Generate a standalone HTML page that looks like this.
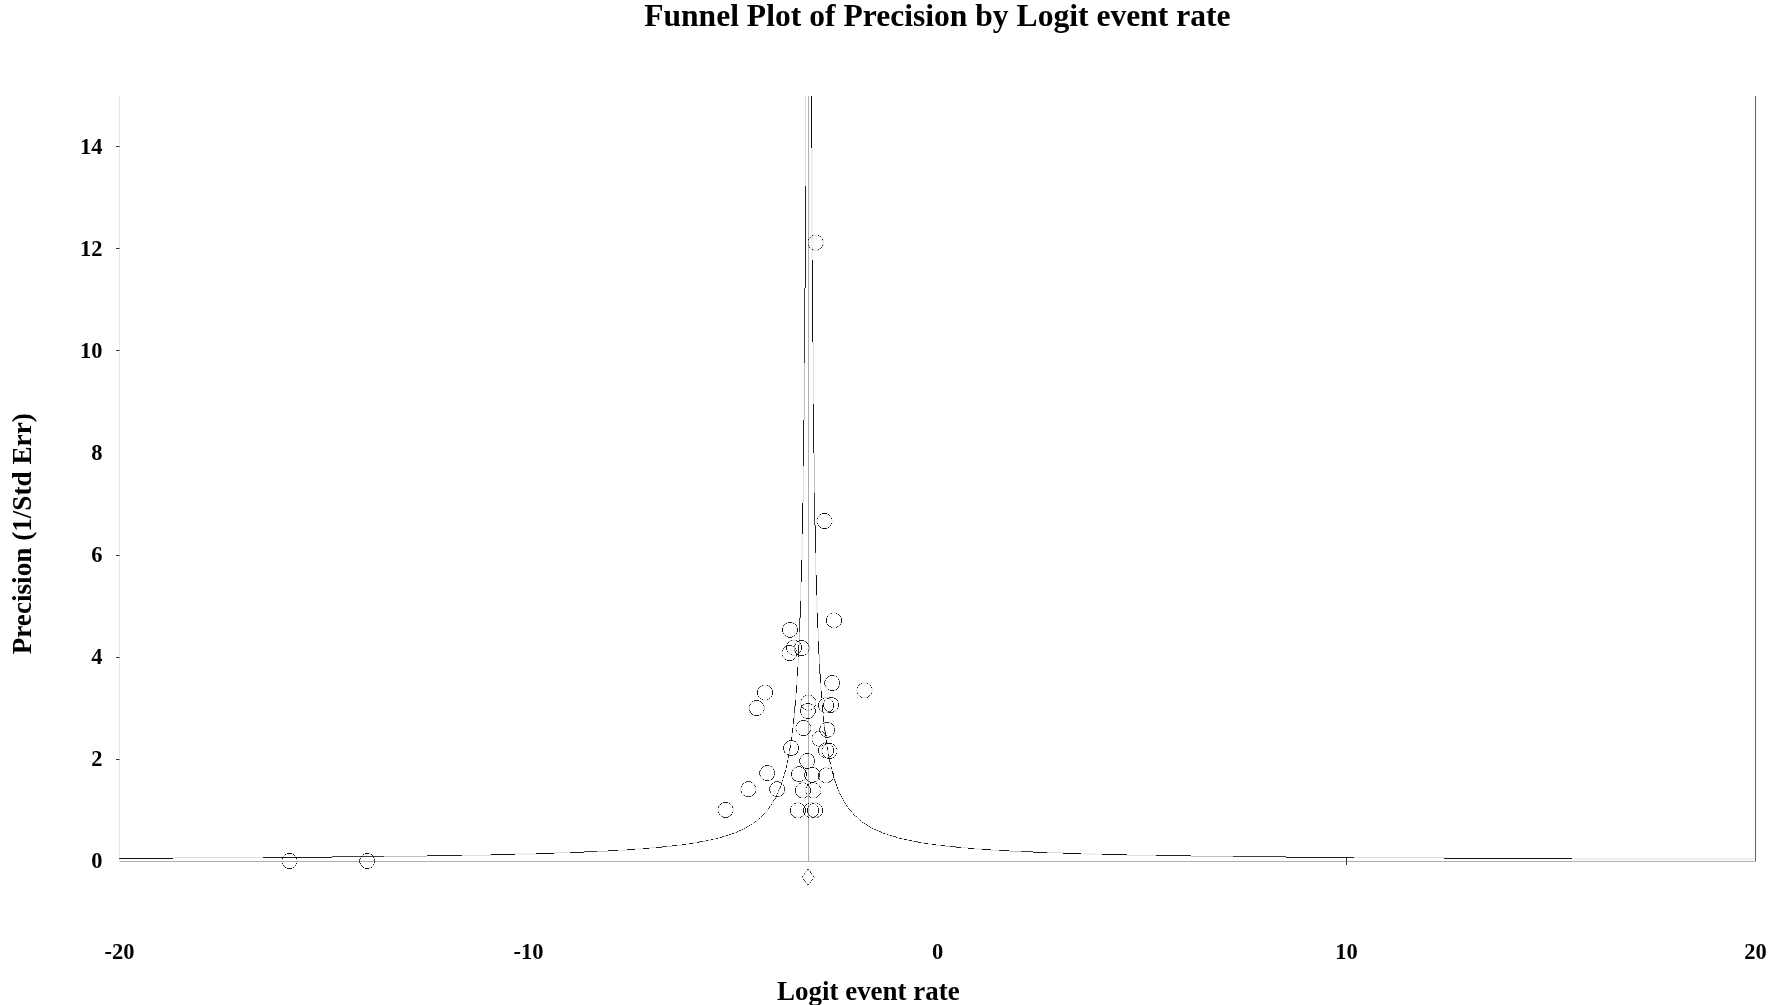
<!DOCTYPE html>
<html><head><meta charset="utf-8"><style>
html,body{margin:0;padding:0;background:#fff;width:1772px;height:1005px;overflow:hidden}
body{position:relative}
</style></head><body>
<svg width="1772" height="1005" viewBox="0 0 1772 1005" style="position:absolute;left:0;top:0;will-change:transform"><line x1="119.5" y1="96" x2="119.5" y2="862" stroke="#e9e9e9" stroke-width="1"/><line x1="1755.5" y1="96" x2="1755.5" y2="862" stroke="#616161" stroke-width="1"/><line x1="120" y1="861.5" x2="1756" y2="861.5" stroke="#b0b0b0" stroke-width="1"/><line x1="116" y1="759.5" x2="119.5" y2="759.5" stroke="#333" stroke-width="1"/><line x1="116" y1="657.5" x2="119.5" y2="657.5" stroke="#333" stroke-width="1"/><line x1="116" y1="555.5" x2="119.5" y2="555.5" stroke="#333" stroke-width="1"/><line x1="116" y1="350.5" x2="119.5" y2="350.5" stroke="#333" stroke-width="1"/><line x1="116" y1="248.5" x2="119.5" y2="248.5" stroke="#333" stroke-width="1"/><line x1="116" y1="146.5" x2="119.5" y2="146.5" stroke="#333" stroke-width="1"/><line x1="1346.5" y1="858" x2="1346.5" y2="865" stroke="#333" stroke-width="1"/><line x1="808.5" y1="96" x2="808.5" y2="861" stroke="#b0b0b0" stroke-width="1"/><g shape-rendering="crispEdges"><path d="M811 148h2v1h-2zM811 149h2v1h-2zM811 150h2v1h-2zM811 151h2v1h-2zM811 152h2v1h-2zM811 153h2v1h-2zM811 154h2v1h-2zM811 155h2v1h-2zM811 156h2v1h-2zM811 157h2v1h-2zM811 158h2v1h-2zM811 159h2v1h-2zM811 160h2v1h-2zM811 161h2v1h-2zM811 162h2v1h-2zM811 163h2v1h-2zM811 164h2v1h-2zM811 165h2v1h-2zM811 166h2v1h-2zM811 167h2v1h-2zM811 168h2v1h-2zM811 169h2v1h-2zM811 170h2v1h-2zM811 171h2v1h-2zM811 172h2v1h-2zM811 173h2v1h-2zM811 174h2v1h-2zM811 175h2v1h-2zM811 176h2v1h-2zM811 177h2v1h-2zM811 178h2v1h-2zM811 179h2v1h-2zM811 180h2v1h-2zM811 181h2v1h-2zM811 182h2v1h-2zM811 183h2v1h-2zM811 184h2v1h-2zM811 185h2v1h-2zM811 186h2v1h-2zM811 187h2v1h-2zM811 188h2v1h-2zM811 189h2v1h-2zM811 190h2v1h-2zM811 191h2v1h-2zM811 192h2v1h-2zM811 193h2v1h-2zM811 194h2v1h-2zM811 195h2v1h-2zM811 196h2v1h-2zM811 197h2v1h-2zM811 198h2v1h-2zM811 199h2v1h-2zM811 200h2v1h-2zM811 201h2v1h-2zM811 202h2v1h-2zM811 203h2v1h-2zM811 204h2v1h-2zM811 205h2v1h-2zM811 206h2v1h-2zM811 207h2v1h-2zM811 208h2v1h-2zM811 209h2v1h-2zM811 210h2v1h-2zM811 211h2v1h-2zM811 212h2v1h-2zM811 213h2v1h-2zM811 214h2v1h-2zM811 215h2v1h-2zM811 216h2v1h-2zM811 217h2v1h-2zM811 218h2v1h-2zM811 219h2v1h-2zM811 220h2v1h-2zM811 221h2v1h-2zM811 222h2v1h-2zM811 223h2v1h-2zM811 224h2v1h-2zM811 225h2v1h-2zM811 226h2v1h-2zM811 227h2v1h-2zM811 228h2v1h-2zM811 229h2v1h-2zM811 230h2v1h-2zM811 231h2v1h-2zM811 232h2v1h-2zM811 233h2v1h-2zM811 234h2v1h-2zM811 235h1v1h-1zM810 236h1v1h-1zM812 236h1v1h-1zM809 237h1v1h-1zM811 237h2v1h-2zM811 238h2v1h-2zM821 238h2v1h-2zM811 239h2v1h-2zM811 240h2v1h-2zM811 241h2v1h-2zM811 242h2v1h-2zM811 243h2v1h-2zM811 244h2v1h-2zM811 245h2v1h-2zM811 246h2v1h-2zM821 246h2v1h-2zM811 247h2v1h-2zM820 247h1v1h-1zM812 248h1v1h-1zM819 248h1v1h-1zM819 249h1v1h-1zM811 250h2v1h-2zM811 251h2v1h-2zM811 252h2v1h-2zM811 253h2v1h-2zM811 254h2v1h-2zM811 255h2v1h-2zM811 256h2v1h-2zM811 257h2v1h-2zM811 258h2v1h-2zM811 259h2v1h-2zM804 287h1v1h-1zM804 420h1v1h-1zM821 513h1v1h-1zM827 513h1v1h-1zM821 514h1v1h-1zM827 514h1v1h-1zM816 519h2v1h-2zM831 519h2v1h-2zM816 520h2v1h-2zM831 520h2v1h-2zM816 521h2v1h-2zM831 521h2v1h-2zM816 522h2v1h-2zM831 522h2v1h-2zM817 524h1v1h-1zM831 524h1v1h-1zM814 525h1v1h-1zM801 534h2v1h-2zM801 535h2v1h-2zM801 536h2v1h-2zM801 537h2v1h-2zM801 538h2v1h-2zM801 539h2v1h-2zM801 540h2v1h-2zM801 541h2v1h-2zM801 542h2v1h-2zM801 543h2v1h-2zM801 544h2v1h-2zM801 545h2v1h-2zM801 546h2v1h-2zM801 547h2v1h-2zM801 548h2v1h-2zM801 549h2v1h-2zM801 550h2v1h-2zM801 551h2v1h-2zM801 552h2v1h-2zM801 553h2v1h-2zM801 554h2v1h-2zM801 555h2v1h-2zM801 556h2v1h-2zM801 557h2v1h-2zM801 558h2v1h-2zM801 559h2v1h-2zM815 575h1v1h-1zM816 596h2v1h-2zM816 597h2v1h-2zM816 598h2v1h-2zM816 599h2v1h-2zM816 600h2v1h-2zM816 601h2v1h-2zM816 602h2v1h-2zM816 603h2v1h-2zM816 604h2v1h-2zM816 605h2v1h-2zM816 606h2v1h-2zM816 607h2v1h-2zM816 608h2v1h-2zM816 609h2v1h-2zM816 610h2v1h-2zM816 611h2v1h-2zM816 612h2v1h-2zM837 613h1v1h-1zM837 614h1v1h-1zM799 617h1v1h-1zM826 617h2v1h-2zM793 622h1v1h-1zM840 622h1v1h-1zM826 623h2v1h-2zM784 625h1v1h-1zM795 625h1v1h-1zM796 632h2v1h-2zM796 634h1v1h-1zM784 635h1v1h-1zM785 636h1v1h-1zM786 644h2v1h-2zM799 645h2v1h-2zM786 650h2v1h-2zM809 650h1v1h-1zM781 651h2v1h-2zM796 651h2v1h-2zM781 652h2v1h-2zM796 652h2v1h-2zM781 653h2v1h-2zM806 653h2v1h-2zM781 654h2v1h-2zM806 654h1v1h-1zM783 656h1v1h-1zM795 656h1v1h-1zM796 677h2v1h-2zM796 678h2v1h-2zM796 679h2v1h-2zM796 680h2v1h-2zM796 681h2v1h-2zM796 682h2v1h-2zM796 683h2v1h-2zM860 683h1v1h-1zM862 683h1v1h-1zM866 683h1v1h-1zM868 683h1v1h-1zM796 684h2v1h-2zM860 684h1v1h-1zM868 684h1v1h-1zM824 685h1v1h-1zM859 685h1v1h-1zM869 685h1v1h-1zM826 688h2v1h-2zM856 688h2v1h-2zM871 688h2v1h-2zM771 689h2v1h-2zM827 689h1v1h-1zM856 689h2v1h-2zM871 689h2v1h-2zM758 690h1v1h-1zM856 690h2v1h-2zM871 690h2v1h-2zM856 691h2v1h-2zM871 691h2v1h-2zM771 695h2v1h-2zM813 696h1v1h-1zM814 697h1v1h-1zM834 697h1v1h-1zM761 698h1v1h-1zM801 698h2v1h-2zM821 698h1v1h-1zM826 698h1v1h-1zM761 699h1v1h-1zM826 699h1v1h-1zM821 700h2v1h-2zM821 701h2v1h-2zM838 701h1v1h-1zM821 702h2v1h-2zM810 703h1v1h-1zM821 703h2v1h-2zM810 704h1v1h-1zM812 704h1v1h-1zM821 704h2v1h-2zM803 705h1v1h-1zM802 706h1v1h-1zM800 707h1v1h-1zM803 707h1v1h-1zM819 707h1v1h-1zM804 708h1v1h-1zM812 708h1v1h-1zM832 708h1v1h-1zM804 709h1v1h-1zM812 709h1v1h-1zM836 709h2v1h-2zM764 710h1v1h-1zM825 710h1v1h-1zM761 713h2v1h-2zM761 714h1v1h-1zM814 715h1v1h-1zM803 716h1v1h-1zM813 716h1v1h-1zM805 721h1v1h-1zM822 723h1v1h-1zM796 724h2v1h-2zM821 724h2v1h-2zM819 727h1v1h-1zM795 730h1v1h-1zM814 732h1v1h-1zM824 732h1v1h-1zM791 733h2v1h-2zM791 734h2v1h-2zM806 734h1v1h-1zM791 735h2v1h-2zM813 735h1v1h-1zM791 736h2v1h-2zM811 737h2v1h-2zM811 738h2v1h-2zM826 738h2v1h-2zM811 739h2v1h-2zM826 739h2v1h-2zM811 740h2v1h-2zM827 740h1v1h-1zM785 742h1v1h-1zM828 742h1v1h-1zM796 743h2v1h-2zM822 743h1v1h-1zM832 743h1v1h-1zM822 744h1v1h-1zM827 744h1v1h-1zM832 744h1v1h-1zM826 745h2v1h-2zM826 746h2v1h-2zM821 749h2v1h-2zM836 749h2v1h-2zM821 750h2v1h-2zM836 750h2v1h-2zM798 751h1v1h-1zM821 751h2v1h-2zM836 751h2v1h-2zM819 752h1v1h-1zM821 752h2v1h-2zM836 752h2v1h-2zM786 753h1v1h-1zM804 753h1v1h-1zM832 753h1v1h-1zM786 754h1v1h-1zM804 754h1v1h-1zM822 754h1v1h-1zM836 754h1v1h-1zM794 755h1v1h-1zM800 756h1v1h-1zM814 757h1v1h-1zM788 760h1v1h-1zM786 763h2v1h-2zM786 764h2v1h-2zM800 765h1v1h-1zM785 767h1v1h-1zM794 767h1v1h-1zM828 767h1v1h-1zM822 768h1v1h-1zM806 769h2v1h-2zM822 769h1v1h-1zM831 769h2v1h-2zM832 770h1v1h-1zM791 771h2v1h-2zM804 772h1v1h-1zM759 775h1v1h-1zM805 776h1v1h-1zM834 777h1v1h-1zM761 778h2v1h-2zM832 778h1v1h-1zM762 779h1v1h-1zM795 781h1v1h-1zM782 782h1v1h-1zM800 782h1v1h-1zM782 783h1v1h-1zM806 783h1v1h-1zM809 783h1v1h-1zM817 783h1v1h-1zM782 784h1v1h-1zM806 784h1v1h-1zM809 784h1v1h-1zM817 784h1v1h-1zM741 785h2v1h-2zM806 786h2v1h-2zM836 786h2v1h-2zM779 787h1v1h-1zM779 790h1v1h-1zM740 791h1v1h-1zM754 792h1v1h-1zM809 792h1v1h-1zM741 793h2v1h-2zM771 793h1v1h-1zM796 793h1v1h-1zM742 794h1v1h-1zM771 794h2v1h-2zM776 794h2v1h-2zM806 794h2v1h-2zM753 795h1v1h-1zM819 795h1v1h-1zM818 796h1v1h-1zM841 797h2v1h-2zM842 799h1v1h-1zM774 800h1v1h-1zM795 802h1v1h-1zM722 803h1v1h-1zM771 803h2v1h-2zM801 803h1v1h-1zM807 803h1v1h-1zM811 803h1v1h-1zM801 804h1v1h-1zM807 804h1v1h-1zM811 804h1v1h-1zM733 807h1v1h-1zM821 807h2v1h-2zM849 810h1v1h-1zM765 811h1v1h-1zM850 811h1v1h-1zM808 812h1v1h-1zM731 813h2v1h-2zM791 813h1v1h-1zM817 813h1v1h-1zM821 813h2v1h-2zM763 815h1v1h-1zM723 816h1v1h-1zM859 820h1v1h-1zM752 823h1v1h-1zM752 824h1v1h-1zM743 828h1v1h-1zM741 829h1v1h-1zM743 829h1v1h-1zM875 830h1v1h-1zM883 832h1v1h-1zM731 833h1v1h-1zM885 833h2v1h-2zM731 834h1v1h-1zM885 834h2v1h-2zM729 835h1v1h-1zM899 837h1v1h-1zM714 838h1v1h-1zM902 838h2v1h-2zM714 839h1v1h-1zM902 839h2v1h-2zM924 842h1v1h-1zM686 843h3v1h-3zM928 843h4v1h-4zM681 844h1v1h-1zM686 844h3v1h-3zM928 844h4v1h-4zM649 847h1v1h-1zM635 848h8v1h-8zM975 848h7v1h-7zM635 849h8v1h-8zM975 849h7v1h-7zM990 850h1v1h-1zM1033 851h1v1h-1zM554 852h1v1h-1zM1063 852h1v1h-1zM286 853h1v1h-1zM292 853h1v1h-1zM364 853h1v1h-1zM515 853h21v1h-21zM1081 853h21v1h-21zM286 854h1v1h-1zM292 854h1v1h-1zM364 854h1v1h-1zM515 854h21v1h-21zM1081 854h21v1h-21zM1190 856h1v1h-1zM374 857h1v1h-1zM1444 857h1v1h-1zM1572 858h183v1h-183zM281 859h2v1h-2zM296 859h2v1h-2zM1572 859h183v1h-183zM281 860h2v1h-2zM296 860h2v1h-2zM281 861h2v1h-2zM296 861h2v1h-2zM281 862h2v1h-2zM296 862h2v1h-2zM282 864h1v1h-1zM296 864h1v1h-1zM360 865h1v1h-1zM369 867h1v1h-1zM805 871h1v1h-1zM811 874h2v1h-2zM809 882h1v1h-1zM806 883h2v1h-2zM808 885h1v1h-1z" fill="#000" fill-opacity="0.062"/><path d="M805 96h1v1h-1zM805 97h1v1h-1zM805 98h1v1h-1zM805 99h1v1h-1zM805 100h1v1h-1zM805 101h1v1h-1zM805 102h1v1h-1zM805 103h1v1h-1zM805 104h1v1h-1zM805 105h1v1h-1zM805 106h1v1h-1zM805 107h1v1h-1zM805 108h1v1h-1zM805 109h1v1h-1zM805 110h1v1h-1zM805 111h1v1h-1zM805 112h1v1h-1zM805 113h1v1h-1zM805 114h1v1h-1zM805 115h1v1h-1zM805 116h1v1h-1zM805 117h1v1h-1zM805 118h1v1h-1zM805 119h1v1h-1zM805 120h1v1h-1zM805 121h1v1h-1zM805 122h1v1h-1zM805 123h1v1h-1zM805 124h1v1h-1zM805 125h1v1h-1zM805 126h1v1h-1zM805 127h1v1h-1zM805 128h1v1h-1zM805 129h1v1h-1zM805 130h1v1h-1zM805 131h1v1h-1zM805 132h1v1h-1zM805 133h1v1h-1zM805 134h1v1h-1zM805 135h1v1h-1zM805 136h1v1h-1zM805 137h1v1h-1zM805 138h1v1h-1zM805 139h1v1h-1zM805 140h1v1h-1zM805 141h1v1h-1zM805 142h1v1h-1zM805 143h1v1h-1zM805 144h1v1h-1zM805 145h1v1h-1zM805 146h1v1h-1zM805 147h1v1h-1zM805 148h1v1h-1zM805 149h1v1h-1zM805 150h1v1h-1zM805 151h1v1h-1zM805 152h1v1h-1zM805 153h1v1h-1zM805 154h1v1h-1zM805 155h1v1h-1zM805 156h1v1h-1zM805 157h1v1h-1zM805 158h1v1h-1zM805 159h1v1h-1zM805 160h1v1h-1zM805 161h1v1h-1zM805 162h1v1h-1zM805 163h1v1h-1zM805 164h1v1h-1zM805 165h1v1h-1zM805 166h1v1h-1zM805 167h1v1h-1zM805 168h1v1h-1zM805 169h1v1h-1zM805 170h1v1h-1zM805 171h1v1h-1zM805 172h1v1h-1zM805 173h1v1h-1zM805 174h1v1h-1zM805 175h1v1h-1zM805 176h1v1h-1zM805 177h1v1h-1zM805 178h1v1h-1zM805 179h1v1h-1zM805 180h1v1h-1zM805 181h1v1h-1zM805 182h1v1h-1zM805 183h1v1h-1zM805 184h1v1h-1zM805 185h1v1h-1zM814 235h4v1h-4zM820 237h2v1h-2zM822 240h2v1h-2zM808 241h1v1h-1zM823 241h1v1h-1zM808 242h1v1h-1zM823 242h1v1h-1zM808 243h1v1h-1zM823 243h1v1h-1zM808 244h1v1h-1zM823 244h1v1h-1zM810 247h1v1h-1zM810 248h2v1h-2zM811 249h1v1h-1zM813 249h1v1h-1zM813 250h5v1h-5zM813 342h1v1h-1zM813 343h1v1h-1zM813 344h1v1h-1zM813 345h1v1h-1zM813 346h1v1h-1zM813 347h1v1h-1zM813 348h1v1h-1zM813 349h1v1h-1zM813 350h1v1h-1zM813 351h1v1h-1zM813 352h1v1h-1zM813 353h1v1h-1zM813 354h1v1h-1zM813 355h1v1h-1zM813 356h1v1h-1zM813 357h1v1h-1zM813 358h1v1h-1zM813 359h1v1h-1zM813 360h1v1h-1zM813 361h1v1h-1zM813 362h1v1h-1zM813 363h1v1h-1zM813 364h1v1h-1zM813 365h1v1h-1zM813 366h1v1h-1zM813 367h1v1h-1zM813 368h1v1h-1zM813 369h1v1h-1zM813 370h1v1h-1zM813 371h1v1h-1zM813 372h1v1h-1zM813 373h1v1h-1zM813 374h1v1h-1zM813 375h1v1h-1zM813 376h1v1h-1zM813 377h1v1h-1zM813 378h1v1h-1zM813 379h1v1h-1zM813 380h1v1h-1zM813 381h1v1h-1zM813 382h1v1h-1zM813 383h1v1h-1zM813 384h1v1h-1zM813 385h1v1h-1zM813 386h1v1h-1zM813 387h1v1h-1zM813 388h1v1h-1zM813 389h1v1h-1zM813 390h1v1h-1zM813 391h1v1h-1zM813 392h1v1h-1zM813 393h1v1h-1zM813 394h1v1h-1zM813 395h1v1h-1zM813 396h1v1h-1zM813 397h1v1h-1zM813 398h1v1h-1zM813 399h1v1h-1zM813 400h1v1h-1zM813 401h1v1h-1zM813 402h1v1h-1zM813 403h1v1h-1zM803 466h1v1h-1zM803 467h1v1h-1zM803 468h1v1h-1zM803 469h1v1h-1zM803 470h1v1h-1zM803 471h1v1h-1zM803 472h1v1h-1zM803 473h1v1h-1zM803 474h1v1h-1zM803 475h1v1h-1zM803 476h1v1h-1zM803 477h1v1h-1zM803 478h1v1h-1zM803 479h1v1h-1zM803 480h1v1h-1zM803 481h1v1h-1zM803 482h1v1h-1zM803 483h1v1h-1zM803 484h1v1h-1zM803 485h1v1h-1zM803 486h1v1h-1zM803 487h1v1h-1zM803 488h1v1h-1zM803 489h1v1h-1zM803 490h1v1h-1zM803 491h1v1h-1zM803 492h1v1h-1zM803 493h1v1h-1zM803 494h1v1h-1zM803 495h1v1h-1zM803 496h1v1h-1zM803 497h1v1h-1zM803 498h1v1h-1zM803 499h1v1h-1zM803 500h1v1h-1zM803 501h1v1h-1zM803 502h1v1h-1zM817 517h2v1h-2zM830 517h2v1h-2zM818 524h1v1h-1zM830 524h1v1h-1zM821 527h1v1h-1zM827 527h1v1h-1zM815 553h1v1h-1zM815 554h1v1h-1zM815 555h1v1h-1zM815 556h1v1h-1zM815 557h1v1h-1zM815 558h1v1h-1zM815 559h1v1h-1zM815 560h1v1h-1zM815 561h1v1h-1zM815 562h1v1h-1zM815 563h1v1h-1zM815 564h1v1h-1zM815 565h1v1h-1zM815 566h1v1h-1zM815 567h1v1h-1zM815 568h1v1h-1zM815 569h1v1h-1zM815 570h1v1h-1zM815 571h1v1h-1zM815 572h1v1h-1zM815 573h1v1h-1zM815 574h1v1h-1zM800 582h1v1h-1zM800 583h1v1h-1zM800 584h1v1h-1zM800 585h1v1h-1zM800 586h1v1h-1zM800 587h1v1h-1zM800 588h1v1h-1zM800 589h1v1h-1zM800 590h1v1h-1zM800 591h1v1h-1zM800 592h1v1h-1zM800 593h1v1h-1zM800 594h1v1h-1zM800 595h1v1h-1zM800 596h1v1h-1zM800 597h1v1h-1zM800 598h1v1h-1zM800 599h1v1h-1zM800 600h1v1h-1zM832 612h4v1h-4zM840 617h1v1h-1zM787 622h1v1h-1zM782 627h2v1h-2zM830 627h1v1h-1zM832 627h4v1h-4zM818 628h1v1h-1zM818 629h1v1h-1zM818 630h1v1h-1zM818 631h1v1h-1zM783 632h1v1h-1zM818 632h1v1h-1zM818 633h1v1h-1zM795 634h1v1h-1zM818 634h1v1h-1zM795 635h1v1h-1zM818 635h1v1h-1zM794 636h1v1h-1zM818 636h1v1h-1zM818 637h1v1h-1zM818 638h1v1h-1zM818 639h1v1h-1zM790 640h1v1h-1zM792 640h4v1h-4zM818 640h1v1h-1zM808 644h1v1h-1zM783 649h1v1h-1zM795 649h1v1h-1zM800 650h1v1h-1zM794 651h1v1h-1zM807 652h2v1h-2zM797 653h1v1h-1zM792 655h4v1h-4zM804 655h1v1h-1zM798 657h1v1h-1zM798 658h1v1h-1zM798 659h1v1h-1zM786 660h1v1h-1zM792 660h1v1h-1zM798 660h1v1h-1zM798 661h1v1h-1zM798 662h1v1h-1zM798 663h1v1h-1zM798 664h1v1h-1zM798 665h1v1h-1zM798 666h1v1h-1zM834 676h1v1h-1zM825 679h1v1h-1zM862 682h5v1h-5zM820 683h1v1h-1zM820 684h1v1h-1zM763 685h4v1h-4zM768 685h1v1h-1zM820 685h1v1h-1zM820 686h1v1h-1zM839 686h1v1h-1zM858 686h1v1h-1zM870 686h1v1h-1zM820 687h1v1h-1zM825 687h2v1h-2zM820 688h1v1h-1zM820 689h1v1h-1zM835 689h1v1h-1zM820 690h1v1h-1zM829 690h1v1h-1zM835 690h1v1h-1zM795 693h1v1h-1zM795 694h1v1h-1zM858 694h1v1h-1zM870 694h1v1h-1zM758 695h1v1h-1zM795 695h1v1h-1zM806 695h4v1h-4zM858 695h1v1h-1zM870 695h1v1h-1zM795 696h1v1h-1zM859 696h1v1h-1zM869 696h1v1h-1zM795 697h1v1h-1zM802 697h2v1h-2zM824 697h5v1h-5zM863 697h3v1h-3zM795 698h1v1h-1zM822 698h1v1h-1zM795 699h1v1h-1zM822 699h1v1h-1zM825 699h1v1h-1zM763 700h4v1h-4zM800 700h2v1h-2zM825 700h1v1h-1zM754 701h1v1h-1zM800 701h1v1h-1zM815 701h1v1h-1zM800 702h1v1h-1zM815 702h1v1h-1zM823 702h1v1h-1zM833 702h1v1h-1zM800 703h1v1h-1zM815 703h1v1h-1zM763 704h1v1h-1zM800 704h1v1h-1zM815 704h1v1h-1zM812 705h2v1h-2zM813 707h1v1h-1zM838 707h1v1h-1zM813 708h1v1h-1zM833 708h1v1h-1zM810 709h1v1h-1zM806 710h5v1h-5zM835 710h2v1h-2zM749 711h1v1h-1zM823 711h1v1h-1zM762 712h2v1h-2zM824 712h4v1h-4zM833 712h1v1h-1zM800 713h1v1h-1zM823 713h1v1h-1zM753 714h1v1h-1zM823 714h1v1h-1zM753 715h1v1h-1zM759 715h1v1h-1zM823 715h1v1h-1zM805 717h1v1h-1zM810 717h1v1h-1zM805 718h1v1h-1zM830 722h1v1h-1zM830 723h1v1h-1zM793 724h1v1h-1zM793 725h1v1h-1zM820 725h2v1h-2zM793 726h1v1h-1zM795 726h1v1h-1zM810 726h1v1h-1zM834 726h1v1h-1zM793 727h1v1h-1zM795 727h1v1h-1zM810 727h1v1h-1zM795 728h1v1h-1zM810 728h1v1h-1zM795 729h1v1h-1zM810 729h1v1h-1zM824 731h1v1h-1zM820 733h1v1h-1zM800 735h1v1h-1zM806 735h1v1h-1zM825 736h1v1h-1zM825 738h1v1h-1zM825 739h1v1h-1zM793 740h1v1h-1zM790 741h1v1h-1zM790 742h1v1h-1zM795 742h2v1h-2zM813 742h1v1h-1zM824 742h1v1h-1zM827 742h1v1h-1zM790 743h1v1h-1zM790 744h1v1h-1zM826 744h1v1h-1zM798 745h1v1h-1zM815 745h1v1h-1zM823 745h1v1h-1zM822 747h2v1h-2zM833 747h1v1h-1zM835 747h2v1h-2zM783 750h1v1h-1zM827 750h2v1h-2zM828 751h1v1h-1zM785 752h1v1h-1zM828 752h1v1h-1zM785 753h1v1h-1zM833 753h1v1h-1zM823 754h1v1h-1zM835 754h1v1h-1zM824 757h1v1h-1zM826 757h2v1h-2zM832 757h1v1h-1zM788 758h1v1h-1zM788 759h1v1h-1zM830 765h1v1h-1zM769 766h1v1h-1zM830 766h1v1h-1zM804 767h1v1h-1zM809 767h1v1h-1zM815 767h1v1h-1zM824 767h4v1h-4zM785 768h1v1h-1zM815 768h1v1h-1zM760 769h1v1h-1zM785 769h1v1h-1zM806 770h1v1h-1zM833 772h1v1h-1zM774 776h1v1h-1zM760 777h2v1h-2zM783 778h1v1h-1zM833 778h1v1h-1zM770 779h1v1h-1zM783 779h1v1h-1zM764 780h1v1h-1zM770 780h1v1h-1zM779 781h1v1h-1zM744 782h1v1h-1zM750 782h1v1h-1zM752 782h1v1h-1zM773 782h1v1h-1zM801 782h4v1h-4zM815 782h1v1h-1zM824 782h4v1h-4zM815 783h1v1h-1zM835 783h1v1h-1zM783 784h1v1h-1zM818 784h1v1h-1zM770 785h1v1h-1zM780 785h1v1h-1zM818 785h1v1h-1zM740 787h1v1h-1zM755 787h1v1h-1zM795 787h1v1h-1zM740 788h1v1h-1zM755 788h1v1h-1zM805 788h1v1h-1zM820 788h1v1h-1zM740 789h1v1h-1zM755 789h1v1h-1zM805 789h1v1h-1zM820 789h1v1h-1zM838 789h1v1h-1zM740 790h1v1h-1zM755 790h1v1h-1zM805 790h1v1h-1zM820 790h1v1h-1zM769 791h1v1h-1zM805 791h1v1h-1zM820 791h1v1h-1zM839 791h1v1h-1zM778 792h1v1h-1zM783 792h1v1h-1zM805 792h2v1h-2zM770 793h1v1h-1zM795 793h1v1h-1zM743 794h1v1h-1zM743 795h1v1h-1zM772 795h1v1h-1zM780 795h1v1h-1zM807 795h1v1h-1zM840 795h1v1h-1zM799 796h1v1h-1zM801 797h4v1h-4zM811 797h4v1h-4zM843 799h1v1h-1zM844 801h1v1h-1zM722 802h1v1h-1zM728 802h1v1h-1zM772 802h2v1h-2zM796 802h4v1h-4zM809 802h8v1h-8zM845 804h1v1h-1zM770 805h1v1h-1zM719 806h1v1h-1zM790 807h1v1h-1zM808 807h1v1h-1zM818 807h1v1h-1zM848 807h1v1h-1zM718 808h1v1h-1zM733 808h1v1h-1zM718 809h1v1h-1zM733 809h1v1h-1zM768 809h1v1h-1zM718 810h1v1h-1zM733 810h1v1h-1zM718 811h1v1h-1zM733 811h1v1h-1zM804 812h1v1h-1zM790 813h1v1h-1zM818 813h1v1h-1zM853 813h1v1h-1zM794 816h1v1h-1zM796 817h4v1h-4zM809 817h2v1h-2zM815 817h2v1h-2zM818 817h1v1h-1zM753 822h1v1h-1zM753 823h1v1h-1zM750 825h1v1h-1zM868 825h1v1h-1zM745 827h1v1h-1zM871 827h1v1h-1zM741 830h1v1h-1zM878 830h1v1h-1zM739 831h1v1h-1zM734 832h1v1h-1zM880 832h1v1h-1zM888 834h1v1h-1zM725 835h1v1h-1zM728 835h1v1h-1zM888 835h2v1h-2zM718 837h2v1h-2zM895 837h1v1h-1zM898 837h1v1h-1zM705 840h1v1h-1zM709 840h2v1h-2zM907 840h2v1h-2zM693 842h3v1h-3zM921 842h3v1h-3zM693 843h1v1h-1zM678 845h4v1h-4zM936 845h4v1h-4zM650 847h6v1h-6zM955 847h1v1h-1zM961 847h7v1h-7zM618 850h9v1h-9zM991 850h8v1h-8zM1009 851h1v1h-1zM555 852h15v1h-15zM1048 852h15v1h-15zM490 854h1v1h-1zM462 855h29v1h-29zM1127 855h28v1h-28zM173 857h90v1h-90zM1285 857h1v1h-1zM1354 857h90v1h-90zM283 864h1v1h-1zM295 864h1v1h-1zM286 867h1v1h-1zM292 867h1v1h-1zM364 867h1v1h-1zM808 870h1v1h-1zM809 871h1v1h-1zM812 875h2v1h-2zM813 877h1v1h-1zM803 878h1v1h-1zM813 878h1v1h-1zM804 881h1v1h-1zM810 881h1v1h-1zM805 882h2v1h-2z" fill="#000" fill-opacity="0.125"/><path d="M813 235h1v1h-1zM808 240h1v1h-1zM816 595h1v1h-1zM830 613h1v1h-1zM828 615h1v1h-1zM792 622h1v1h-1zM785 623h1v1h-1zM840 623h1v1h-1zM797 627h1v1h-1zM790 641h1v1h-1zM796 642h1v1h-1zM795 643h1v1h-1zM800 644h1v1h-1zM788 652h1v1h-1zM790 654h1v1h-1zM783 657h1v1h-1zM795 657h1v1h-1zM834 675h1v1h-1zM837 677h1v1h-1zM838 678h1v1h-1zM768 686h1v1h-1zM758 689h1v1h-1zM857 692h1v1h-1zM871 692h1v1h-1zM810 695h1v1h-1zM859 695h1v1h-1zM770 697h1v1h-1zM833 697h1v1h-1zM862 697h1v1h-1zM866 697h1v1h-1zM768 699h1v1h-1zM830 699h1v1h-1zM815 700h1v1h-1zM831 700h1v1h-1zM751 702h1v1h-1zM824 702h1v1h-1zM838 702h1v1h-1zM750 703h1v1h-1zM805 703h1v1h-1zM795 706h1v1h-1zM813 706h1v1h-1zM800 708h1v1h-1zM820 710h1v1h-1zM835 711h1v1h-1zM801 715h1v1h-1zM808 722h1v1h-1zM833 726h1v1h-1zM810 731h1v1h-1zM797 732h1v1h-1zM798 733h1v1h-1zM813 734h1v1h-1zM833 734h1v1h-1zM832 735h1v1h-1zM829 737h1v1h-1zM793 741h1v1h-1zM830 744h1v1h-1zM831 745h1v1h-1zM784 750h1v1h-1zM798 750h1v1h-1zM828 753h1v1h-1zM810 754h1v1h-1zM793 755h1v1h-1zM802 755h1v1h-1zM820 755h1v1h-1zM828 756h1v1h-1zM800 757h1v1h-1zM800 764h1v1h-1zM830 764h1v1h-1zM769 765h1v1h-1zM813 765h1v1h-1zM772 767h1v1h-1zM795 767h1v1h-1zM802 767h1v1h-1zM773 768h1v1h-1zM793 769h1v1h-1zM830 769h1v1h-1zM831 770h1v1h-1zM818 771h1v1h-1zM792 777h1v1h-1zM818 779h1v1h-1zM803 780h1v1h-1zM817 780h1v1h-1zM820 780h1v1h-1zM781 782h1v1h-1zM829 782h1v1h-1zM753 783h1v1h-1zM798 784h1v1h-1zM797 785h1v1h-1zM819 785h1v1h-1zM838 791h1v1h-1zM784 792h1v1h-1zM820 792h1v1h-1zM808 795h1v1h-1zM780 796h1v1h-1zM808 796h1v1h-1zM775 797h1v1h-1zM815 797h1v1h-1zM843 801h1v1h-1zM818 803h1v1h-1zM730 804h1v1h-1zM793 804h1v1h-1zM815 804h1v1h-1zM731 805h1v1h-1zM792 805h1v1h-1zM816 805h1v1h-1zM820 805h1v1h-1zM770 806h1v1h-1zM767 810h1v1h-1zM765 812h1v1h-1zM852 812h1v1h-1zM808 813h1v1h-1zM720 815h1v1h-1zM803 815h1v1h-1zM805 815h1v1h-1zM760 817h1v1h-1zM811 817h1v1h-1zM857 817h1v1h-1zM858 818h1v1h-1zM758 819h1v1h-1zM757 820h1v1h-1zM863 822h1v1h-1zM865 824h1v1h-1zM868 826h1v1h-1zM873 828h1v1h-1zM876 830h1v1h-1zM878 831h1v1h-1zM735 832h1v1h-1zM882 832h1v1h-1zM725 836h1v1h-1zM897 837h1v1h-1zM715 838h1v1h-1zM713 839h1v1h-1zM708 840h1v1h-1zM705 841h1v1h-1zM696 842h1v1h-1zM699 842h1v1h-1zM677 845h1v1h-1zM940 845h1v1h-1zM1009 850h1v1h-1zM584 852h1v1h-1zM1047 852h1v1h-1zM370 854h1v1h-1zM362 855h1v1h-1zM1155 855h1v1h-1zM360 857h1v1h-1zM360 864h1v1h-1zM373 865h1v1h-1zM370 867h1v1h-1zM807 870h1v1h-1zM809 870h1v1h-1zM806 871h1v1h-1zM805 872h1v1h-1zM803 875h1v1h-1zM802 877h1v1h-1zM814 877h1v1h-1z" fill="#000" fill-opacity="0.188"/><path d="M811 236h1v1h-1zM819 236h1v1h-1zM809 238h1v1h-1zM809 246h1v1h-1zM804 363h1v1h-1zM804 364h1v1h-1zM804 365h1v1h-1zM804 366h1v1h-1zM804 367h1v1h-1zM804 368h1v1h-1zM804 369h1v1h-1zM804 370h1v1h-1zM804 371h1v1h-1zM804 372h1v1h-1zM804 373h1v1h-1zM804 374h1v1h-1zM804 375h1v1h-1zM804 376h1v1h-1zM804 377h1v1h-1zM804 378h1v1h-1zM804 379h1v1h-1zM804 380h1v1h-1zM804 381h1v1h-1zM804 382h1v1h-1zM804 383h1v1h-1zM804 384h1v1h-1zM804 385h1v1h-1zM804 386h1v1h-1zM804 387h1v1h-1zM804 388h1v1h-1zM804 389h1v1h-1zM804 390h1v1h-1zM804 391h1v1h-1zM804 392h1v1h-1zM804 393h1v1h-1zM804 394h1v1h-1zM804 395h1v1h-1zM804 396h1v1h-1zM804 397h1v1h-1zM804 398h1v1h-1zM804 399h1v1h-1zM804 400h1v1h-1zM804 401h1v1h-1zM804 402h1v1h-1zM804 403h1v1h-1zM804 404h1v1h-1zM804 405h1v1h-1zM804 406h1v1h-1zM804 407h1v1h-1zM804 408h1v1h-1zM804 409h1v1h-1zM804 410h1v1h-1zM804 411h1v1h-1zM804 412h1v1h-1zM804 413h1v1h-1zM804 414h1v1h-1zM804 415h1v1h-1zM804 416h1v1h-1zM804 417h1v1h-1zM804 418h1v1h-1zM804 419h1v1h-1zM814 453h1v1h-1zM814 454h1v1h-1zM814 455h1v1h-1zM814 456h1v1h-1zM814 457h1v1h-1zM814 458h1v1h-1zM814 459h1v1h-1zM814 460h1v1h-1zM814 461h1v1h-1zM814 462h1v1h-1zM814 463h1v1h-1zM814 464h1v1h-1zM814 465h1v1h-1zM814 466h1v1h-1zM814 467h1v1h-1zM814 468h1v1h-1zM814 469h1v1h-1zM814 470h1v1h-1zM814 471h1v1h-1zM814 472h1v1h-1zM814 473h1v1h-1zM814 474h1v1h-1zM814 475h1v1h-1zM814 476h1v1h-1zM814 477h1v1h-1zM814 478h1v1h-1zM814 479h1v1h-1zM814 480h1v1h-1zM814 481h1v1h-1zM814 482h1v1h-1zM814 483h1v1h-1zM814 484h1v1h-1zM814 485h1v1h-1zM814 486h1v1h-1zM814 487h1v1h-1zM814 488h1v1h-1zM814 489h1v1h-1zM814 490h1v1h-1zM814 491h1v1h-1zM814 492h1v1h-1zM819 515h1v1h-1zM818 516h1v1h-1zM830 516h1v1h-1zM829 526h1v1h-1zM829 614h1v1h-1zM794 623h1v1h-1zM839 625h1v1h-1zM783 626h1v1h-1zM796 626h1v1h-1zM838 626h1v1h-1zM799 632h1v1h-1zM799 633h1v1h-1zM784 634h1v1h-1zM799 634h1v1h-1zM799 635h1v1h-1zM786 636h1v1h-1zM793 636h1v1h-1zM799 636h1v1h-1zM799 637h1v1h-1zM799 638h1v1h-1zM799 639h1v1h-1zM789 641h1v1h-1zM799 641h1v1h-1zM804 641h1v1h-1zM799 643h1v1h-1zM799 644h1v1h-1zM792 646h1v1h-1zM794 646h1v1h-1zM809 646h1v1h-1zM809 647h1v1h-1zM794 648h1v1h-1zM809 648h1v1h-1zM794 649h1v1h-1zM809 649h1v1h-1zM808 651h1v1h-1zM789 653h1v1h-1zM819 654h1v1h-1zM819 655h1v1h-1zM782 656h1v1h-1zM796 656h1v1h-1zM819 656h1v1h-1zM819 657h1v1h-1zM784 658h1v1h-1zM819 658h1v1h-1zM819 659h1v1h-1zM819 660h1v1h-1zM819 661h1v1h-1zM819 662h1v1h-1zM819 663h1v1h-1zM797 676h1v1h-1zM829 676h1v1h-1zM835 676h1v1h-1zM839 680h1v1h-1zM869 684h1v1h-1zM839 685h1v1h-1zM761 686h1v1h-1zM825 686h1v1h-1zM834 690h1v1h-1zM804 696h1v1h-1zM812 696h1v1h-1zM759 697h1v1h-1zM829 698h1v1h-1zM753 701h1v1h-1zM759 701h1v1h-1zM824 701h1v1h-1zM837 701h1v1h-1zM819 702h1v1h-1zM804 704h1v1h-1zM749 706h1v1h-1zM764 706h1v1h-1zM749 707h1v1h-1zM764 707h1v1h-1zM814 707h1v1h-1zM824 707h1v1h-1zM749 708h1v1h-1zM764 708h1v1h-1zM819 708h1v1h-1zM749 709h1v1h-1zM764 709h1v1h-1zM763 711h1v1h-1zM821 711h1v1h-1zM827 711h1v1h-1zM834 711h1v1h-1zM794 713h1v1h-1zM794 714h1v1h-1zM814 714h1v1h-1zM794 715h1v1h-1zM794 716h1v1h-1zM802 716h1v1h-1zM794 717h1v1h-1zM804 717h1v1h-1zM800 721h1v1h-1zM806 721h1v1h-1zM829 722h1v1h-1zM809 723h1v1h-1zM824 723h1v1h-1zM824 724h1v1h-1zM824 725h1v1h-1zM824 726h1v1h-1zM834 727h1v1h-1zM796 731h1v1h-1zM817 731h2v1h-2zM820 731h2v1h-2zM834 732h1v1h-1zM814 733h1v1h-1zM812 736h1v1h-1zM823 736h1v1h-1zM826 736h1v1h-1zM831 736h1v1h-1zM788 741h1v1h-1zM825 742h1v1h-1zM824 744h1v1h-1zM784 745h1v1h-1zM824 745h1v1h-1zM817 746h2v1h-2zM820 746h2v1h-2zM823 746h1v1h-1zM835 746h1v1h-1zM819 747h1v1h-1zM789 751h1v1h-1zM789 752h1v1h-1zM789 753h1v1h-1zM809 753h1v1h-1zM819 753h1v1h-1zM801 756h1v1h-1zM821 756h1v1h-1zM834 756h1v1h-1zM829 757h1v1h-1zM814 758h1v1h-1zM814 763h1v1h-1zM764 766h1v1h-1zM770 766h1v1h-1zM812 766h1v1h-1zM814 767h1v1h-1zM794 768h1v1h-1zM809 768h1v1h-1zM829 768h1v1h-1zM774 770h1v1h-1zM784 774h1v1h-1zM774 775h1v1h-1zM784 775h1v1h-1zM760 776h1v1h-1zM791 776h1v1h-1zM806 776h1v1h-1zM819 777h1v1h-1zM819 778h1v1h-1zM834 778h1v1h-1zM804 779h1v1h-1zM769 780h1v1h-1zM782 781h1v1h-1zM796 781h1v1h-1zM801 781h1v1h-1zM808 781h1v1h-1zM816 781h1v1h-1zM821 781h1v1h-1zM754 784h1v1h-1zM784 786h1v1h-1zM809 786h1v1h-1zM779 789h1v1h-1zM778 791h1v1h-1zM784 791h1v1h-1zM839 792h1v1h-1zM809 794h1v1h-1zM745 796h1v1h-1zM751 796h1v1h-1zM774 796h1v1h-1zM779 796h1v1h-1zM807 796h1v1h-1zM773 801h1v1h-1zM814 803h1v1h-1zM719 805h1v1h-1zM809 805h1v1h-1zM766 811h1v1h-1zM719 813h1v1h-1zM721 816h1v1h-1zM729 816h1v1h-1zM802 816h1v1h-1zM806 816h1v1h-1zM810 816h1v1h-1zM819 816h1v1h-1zM855 816h1v1h-1zM859 819h1v1h-1zM756 821h1v1h-1zM861 821h1v1h-1zM748 826h1v1h-1zM738 831h1v1h-1zM724 836h1v1h-1zM892 836h1v1h-1zM703 841h2v1h-2zM912 841h2v1h-2zM667 846h5v1h-5zM945 846h5v1h-5zM649 848h1v1h-1zM974 848h1v1h-1zM597 851h11v1h-11zM1010 851h11v1h-11zM369 853h1v1h-1zM554 853h1v1h-1zM284 855h1v1h-1zM283 856h1v1h-1zM295 856h1v1h-1zM384 856h43v1h-43zM1191 856h42v1h-42zM374 858h1v1h-1zM374 863h1v1h-1zM294 866h1v1h-1zM372 866h1v1h-1zM369 868h1v1h-1zM804 874h1v1h-1zM809 883h1v1h-1z" fill="#000" fill-opacity="0.250"/><path d="M799 642h1v1h-1zM794 647h1v1h-1zM824 722h1v1h-1zM819 772h1v1h-1zM814 782h1v1h-1zM814 817h1v1h-1z" fill="#000" fill-opacity="0.312"/><path d="M794 706h1v1h-1zM829 711h1v1h-1zM809 731h1v1h-1zM829 736h1v1h-1zM814 781h1v1h-1zM829 781h1v1h-1zM769 806h1v1h-1zM814 816h1v1h-1zM699 841h1v1h-1zM584 851h1v1h-1zM810 871h1v1h-1zM805 881h1v1h-1z" fill="#000" fill-opacity="0.625"/><path d="M820 236h1v1h-1zM809 247h1v1h-1zM830 626h1v1h-1zM794 635h1v1h-1zM795 651h1v1h-1zM838 686h1v1h-1zM869 695h1v1h-1zM803 696h1v1h-1zM754 700h1v1h-1zM824 700h1v1h-1zM750 711h1v1h-1zM833 711h1v1h-1zM825 731h1v1h-1zM795 741h1v1h-1zM784 752h1v1h-1zM773 776h1v1h-1zM750 781h1v1h-1zM779 782h1v1h-1zM770 791h1v1h-1zM799 797h1v1h-1zM718 806h1v1h-1zM818 816h1v1h-1zM794 817h1v1h-1zM739 830h1v1h-1zM880 831h1v1h-1zM895 836h1v1h-1zM955 846h1v1h-1zM1285 856h1v1h-1zM804 873h1v1h-1zM804 880h1v1h-1zM810 882h1v1h-1z" fill="#000" fill-opacity="0.688"/><path d="M810 237h1v1h-1zM805 287h1v1h-1zM804 288h1v1h-1zM804 289h1v1h-1zM804 290h1v1h-1zM804 291h1v1h-1zM804 292h1v1h-1zM804 293h1v1h-1zM804 294h1v1h-1zM804 295h1v1h-1zM804 296h1v1h-1zM804 297h1v1h-1zM804 298h1v1h-1zM804 299h1v1h-1zM804 300h1v1h-1zM804 301h1v1h-1zM804 302h1v1h-1zM804 303h1v1h-1zM804 304h1v1h-1zM804 305h1v1h-1zM804 306h1v1h-1zM804 307h1v1h-1zM804 308h1v1h-1zM804 309h1v1h-1zM804 310h1v1h-1zM804 311h1v1h-1zM804 312h1v1h-1zM804 313h1v1h-1zM804 314h1v1h-1zM804 315h1v1h-1zM804 316h1v1h-1zM804 317h1v1h-1zM804 318h1v1h-1zM804 319h1v1h-1zM804 320h1v1h-1zM804 321h1v1h-1zM804 322h1v1h-1zM804 323h1v1h-1zM804 324h1v1h-1zM804 325h1v1h-1zM804 326h1v1h-1zM804 327h1v1h-1zM804 328h1v1h-1zM804 329h1v1h-1zM804 330h1v1h-1zM804 331h1v1h-1zM804 332h1v1h-1zM804 333h1v1h-1zM804 334h1v1h-1zM804 335h1v1h-1zM804 336h1v1h-1zM804 337h1v1h-1zM804 338h1v1h-1zM804 339h1v1h-1zM804 340h1v1h-1zM804 341h1v1h-1zM804 342h1v1h-1zM804 343h1v1h-1zM804 344h1v1h-1zM804 345h1v1h-1zM804 346h1v1h-1zM804 347h1v1h-1zM804 348h1v1h-1zM804 349h1v1h-1zM804 350h1v1h-1zM804 351h1v1h-1zM804 352h1v1h-1zM804 353h1v1h-1zM804 354h1v1h-1zM804 355h1v1h-1zM804 356h1v1h-1zM804 357h1v1h-1zM804 358h1v1h-1zM804 359h1v1h-1zM804 360h1v1h-1zM804 361h1v1h-1zM804 362h1v1h-1zM803 420h1v1h-1zM814 493h1v1h-1zM814 494h1v1h-1zM814 495h1v1h-1zM814 496h1v1h-1zM814 497h1v1h-1zM814 498h1v1h-1zM814 499h1v1h-1zM814 500h1v1h-1zM814 501h1v1h-1zM814 502h1v1h-1zM814 503h1v1h-1zM814 504h1v1h-1zM814 505h1v1h-1zM814 506h1v1h-1zM814 507h1v1h-1zM814 508h1v1h-1zM814 509h1v1h-1zM814 510h1v1h-1zM814 511h1v1h-1zM814 512h1v1h-1zM814 513h1v1h-1zM814 514h1v1h-1zM814 515h1v1h-1zM829 515h1v1h-1zM814 516h1v1h-1zM814 517h1v1h-1zM814 518h1v1h-1zM814 519h1v1h-1zM814 520h1v1h-1zM814 521h1v1h-1zM814 522h1v1h-1zM814 523h1v1h-1zM814 524h1v1h-1zM815 525h1v1h-1zM819 526h1v1h-1zM839 615h1v1h-1zM800 617h1v1h-1zM799 618h1v1h-1zM799 619h1v1h-1zM799 620h1v1h-1zM799 621h1v1h-1zM799 622h1v1h-1zM799 623h1v1h-1zM784 624h1v1h-1zM799 624h1v1h-1zM783 625h1v1h-1zM799 625h1v1h-1zM799 626h1v1h-1zM829 626h1v1h-1zM837 626h1v1h-1zM799 627h1v1h-1zM799 628h1v1h-1zM799 629h1v1h-1zM799 630h1v1h-1zM799 631h1v1h-1zM785 635h1v1h-1zM787 636h1v1h-1zM792 636h1v1h-1zM805 641h1v1h-1zM818 641h1v1h-1zM794 645h1v1h-1zM798 645h1v1h-1zM785 646h1v1h-1zM793 646h1v1h-1zM784 647h1v1h-1zM794 650h1v1h-1zM808 650h1v1h-1zM799 652h1v1h-1zM799 655h1v1h-1zM794 658h1v1h-1zM819 664h1v1h-1zM819 665h1v1h-1zM819 666h1v1h-1zM819 667h1v1h-1zM819 668h1v1h-1zM819 669h1v1h-1zM819 670h1v1h-1zM819 671h1v1h-1zM819 672h1v1h-1zM819 673h1v1h-1zM828 676h1v1h-1zM836 676h1v1h-1zM824 681h1v1h-1zM839 681h1v1h-1zM824 682h1v1h-1zM839 682h1v1h-1zM824 683h1v1h-1zM839 683h1v1h-1zM824 684h1v1h-1zM839 684h1v1h-1zM859 684h1v1h-1zM825 685h1v1h-1zM858 685h1v1h-1zM870 685h1v1h-1zM760 686h1v1h-1zM769 686h1v1h-1zM759 687h1v1h-1zM860 696h1v1h-1zM868 696h1v1h-1zM813 697h1v1h-1zM769 698h1v1h-1zM814 698h1v1h-1zM834 698h1v1h-1zM752 701h1v1h-1zM760 701h1v1h-1zM819 701h1v1h-1zM749 705h1v1h-1zM801 706h1v1h-1zM794 707h1v1h-1zM818 707h1v1h-1zM794 708h1v1h-1zM814 708h1v1h-1zM824 708h1v1h-1zM794 709h1v1h-1zM819 709h1v1h-1zM749 710h1v1h-1zM763 710h1v1h-1zM794 710h1v1h-1zM794 711h1v1h-1zM822 711h1v1h-1zM828 711h1v1h-1zM830 711h1v1h-1zM794 712h1v1h-1zM814 713h1v1h-1zM754 715h1v1h-1zM813 715h1v1h-1zM812 716h1v1h-1zM823 716h1v1h-1zM803 717h1v1h-1zM805 720h1v1h-1zM799 721h1v1h-1zM807 721h1v1h-1zM809 724h1v1h-1zM820 726h1v1h-1zM820 727h1v1h-1zM824 727h1v1h-1zM819 728h1v1h-1zM824 728h1v1h-1zM834 728h1v1h-1zM819 729h1v1h-1zM824 729h1v1h-1zM834 729h1v1h-1zM819 730h1v1h-1zM824 730h1v1h-1zM834 730h1v1h-1zM816 731h1v1h-1zM822 731h1v1h-1zM834 731h1v1h-1zM809 732h1v1h-1zM824 733h1v1h-1zM824 736h1v1h-1zM830 736h1v1h-1zM787 741h1v1h-1zM794 741h1v1h-1zM784 744h1v1h-1zM814 744h1v1h-1zM834 745h1v1h-1zM789 748h1v1h-1zM789 749h1v1h-1zM789 750h1v1h-1zM784 751h1v1h-1zM797 751h1v1h-1zM818 752h1v1h-1zM794 754h1v1h-1zM819 754h1v1h-1zM813 756h1v1h-1zM822 756h1v1h-1zM824 756h1v1h-1zM829 756h2v1h-2zM813 757h1v1h-1zM799 759h1v1h-1zM814 759h1v1h-1zM829 759h1v1h-1zM799 760h1v1h-1zM814 760h1v1h-1zM829 760h1v1h-1zM799 761h1v1h-1zM814 761h1v1h-1zM829 761h1v1h-1zM799 762h1v1h-1zM814 762h1v1h-1zM763 766h1v1h-1zM771 766h1v1h-1zM797 766h4v1h-4zM802 766h1v1h-1zM804 769h1v1h-1zM759 771h1v1h-1zM774 771h1v1h-1zM759 772h1v1h-1zM774 772h1v1h-1zM784 772h1v1h-1zM805 772h1v1h-1zM759 773h1v1h-1zM774 773h1v1h-1zM784 773h1v1h-1zM804 773h1v1h-1zM819 773h1v1h-1zM759 774h1v1h-1zM774 774h1v1h-1zM804 774h1v1h-1zM819 774h1v1h-1zM760 775h1v1h-1zM804 775h1v1h-1zM819 775h1v1h-1zM804 776h1v1h-1zM819 776h1v1h-1zM818 777h1v1h-1zM819 779h1v1h-1zM834 779h1v1h-1zM794 780h2v1h-2zM834 780h1v1h-1zM746 781h4v1h-4zM775 781h4v1h-4zM797 781h4v1h-4zM809 781h1v1h-1zM815 781h1v1h-1zM822 781h1v1h-1zM830 781h1v1h-1zM799 783h1v1h-1zM754 785h1v1h-1zM819 786h1v1h-1zM769 787h1v1h-1zM780 787h1v1h-1zM784 787h1v1h-1zM809 787h1v1h-1zM769 788h1v1h-1zM779 788h1v1h-1zM784 788h1v1h-1zM769 789h1v1h-1zM784 789h1v1h-1zM769 790h1v1h-1zM778 790h1v1h-1zM784 790h1v1h-1zM741 791h1v1h-1zM755 791h1v1h-1zM755 792h1v1h-1zM810 792h1v1h-1zM754 793h1v1h-1zM809 793h1v1h-1zM839 793h1v1h-1zM819 794h1v1h-1zM818 795h1v1h-1zM746 796h5v1h-5zM775 796h1v1h-1zM777 796h2v1h-2zM798 796h1v1h-1zM806 796h1v1h-1zM809 796h1v1h-1zM817 796h1v1h-1zM774 799h1v1h-1zM773 800h1v1h-1zM844 802h1v1h-1zM794 803h1v1h-1zM819 804h1v1h-1zM732 806h1v1h-1zM847 806h1v1h-1zM769 807h1v1h-1zM849 809h1v1h-1zM850 810h1v1h-1zM851 811h1v1h-1zM803 812h1v1h-1zM805 812h1v1h-1zM764 813h1v1h-1zM719 814h1v1h-1zM809 815h1v1h-1zM854 815h1v1h-1zM722 816h1v1h-1zM728 816h1v1h-1zM761 816h1v1h-1zM793 816h1v1h-1zM801 816h1v1h-1zM807 816h1v1h-1zM811 816h1v1h-1zM815 816h1v1h-1zM856 816h1v1h-1zM723 817h1v1h-1zM755 821h1v1h-1zM754 822h1v1h-1zM747 826h1v1h-1zM869 826h1v1h-1zM874 829h1v1h-1zM737 831h1v1h-1zM879 831h1v1h-1zM729 834h1v1h-1zM722 836h2v1h-2zM893 836h2v1h-2zM899 838h1v1h-1zM700 841h3v1h-3zM914 841h4v1h-4zM689 843h1v1h-1zM924 843h1v1h-1zM662 846h5v1h-5zM950 846h5v1h-5zM999 850h1v1h-1zM585 851h12v1h-12zM1021 851h12v1h-12zM1033 852h1v1h-1zM294 855h1v1h-1zM1190 855h1v1h-1zM332 856h29v1h-29zM362 856h11v1h-11zM374 856h10v1h-10zM1233 856h52v1h-52zM373 857h1v1h-1zM119 858h1v1h-1zM1444 858h1v1h-1zM359 859h1v1h-1zM374 859h1v1h-1zM359 860h1v1h-1zM374 860h1v1h-1zM359 861h1v1h-1zM374 861h1v1h-1zM359 862h1v1h-1zM374 862h1v1h-1zM284 866h1v1h-1zM362 866h1v1h-1zM808 869h1v1h-1zM810 872h1v1h-1zM803 879h1v1h-1zM811 880h1v1h-1zM808 884h1v1h-1z" fill="#000" fill-opacity="0.750"/><path d="M808 239h1v1h-1zM821 247h1v1h-1zM820 248h1v1h-1zM812 260h1v1h-1zM813 404h1v1h-1zM818 525h1v1h-1zM830 525h1v1h-1zM815 552h1v1h-1zM816 575h1v1h-1zM838 614h1v1h-1zM826 622h1v1h-1zM841 622h1v1h-1zM793 623h1v1h-1zM795 624h1v1h-1zM796 625h1v1h-1zM828 625h1v1h-1zM831 627h1v1h-1zM791 640h1v1h-1zM788 642h1v1h-1zM806 642h1v1h-1zM786 645h2v1h-2zM791 645h1v1h-1zM801 645h1v1h-1zM783 648h1v1h-1zM795 648h1v1h-1zM795 652h1v1h-1zM818 653h1v1h-1zM782 655h1v1h-1zM796 655h1v1h-1zM787 660h1v1h-1zM791 660h1v1h-1zM827 677h1v1h-1zM820 682h1v1h-1zM767 685h1v1h-1zM796 685h1v1h-1zM770 687h1v1h-1zM838 687h1v1h-1zM757 690h1v1h-1zM772 690h1v1h-1zM811 695h1v1h-1zM760 698h1v1h-1zM828 698h1v1h-1zM835 698h1v1h-1zM815 699h1v1h-1zM795 700h1v1h-1zM820 700h1v1h-1zM837 700h1v1h-1zM761 702h1v1h-1zM803 704h1v1h-1zM802 705h1v1h-1zM801 707h2v1h-2zM833 707h1v1h-1zM803 708h1v1h-1zM825 709h1v1h-1zM826 710h1v1h-1zM831 710h1v1h-1zM750 712h1v1h-1zM828 712h1v1h-1zM798 722h1v1h-1zM793 723h1v1h-1zM833 725h1v1h-1zM796 730h1v1h-1zM810 730h1v1h-1zM792 732h1v1h-1zM808 733h1v1h-1zM805 735h1v1h-1zM812 735h1v1h-1zM822 735h1v1h-1zM826 735h1v1h-1zM786 742h1v1h-1zM785 743h1v1h-1zM813 743h1v1h-1zM825 743h1v1h-1zM820 745h1v1h-1zM797 752h1v1h-1zM833 752h1v1h-1zM788 754h1v1h-1zM795 754h1v1h-1zM812 755h1v1h-1zM823 755h1v1h-1zM831 755h1v1h-1zM835 755h1v1h-1zM788 757h1v1h-1zM828 757h1v1h-1zM800 758h1v1h-1zM787 760h1v1h-1zM787 762h1v1h-1zM813 764h1v1h-1zM786 765h1v1h-1zM801 765h1v1h-1zM762 767h1v1h-1zM786 767h1v1h-1zM796 767h1v1h-1zM803 768h1v1h-1zM828 768h1v1h-1zM818 770h1v1h-1zM820 770h1v1h-1zM805 771h1v1h-1zM773 777h1v1h-1zM833 777h1v1h-1zM793 779h1v1h-1zM802 780h1v1h-1zM807 780h1v1h-1zM831 780h1v1h-1zM751 782h1v1h-1zM780 782h1v1h-1zM828 782h1v1h-1zM835 782h1v1h-1zM743 783h1v1h-1zM800 783h1v1h-1zM808 784h1v1h-1zM807 785h2v1h-2zM741 792h1v1h-1zM770 792h1v1h-1zM795 792h1v1h-1zM783 793h1v1h-1zM820 793h1v1h-1zM753 794h1v1h-1zM776 795h1v1h-1zM781 795h1v1h-1zM797 795h1v1h-1zM800 797h1v1h-1zM816 797h1v1h-1zM775 798h1v1h-1zM843 800h1v1h-1zM723 802h1v1h-1zM795 803h1v1h-1zM813 803h1v1h-1zM845 803h1v1h-1zM720 804h1v1h-1zM810 804h1v1h-1zM803 805h1v1h-1zM805 805h1v1h-1zM718 807h1v1h-1zM732 807h1v1h-1zM768 808h1v1h-1zM848 808h1v1h-1zM790 812h1v1h-1zM807 812h1v1h-1zM818 812h1v1h-1zM822 812h1v1h-1zM763 814h1v1h-1zM853 814h1v1h-1zM730 815h1v1h-1zM762 815h1v1h-1zM792 815h1v1h-1zM816 815h1v1h-1zM820 815h1v1h-1zM795 817h1v1h-1zM817 817h1v1h-1zM862 822h1v1h-1zM867 825h1v1h-1zM875 829h1v1h-1zM740 830h1v1h-1zM736 832h1v1h-1zM883 833h1v1h-1zM730 834h1v1h-1zM891 835h1v1h-1zM911 840h1v1h-1zM685 844h1v1h-1zM672 845h1v1h-1zM661 847h1v1h-1zM990 849h1v1h-1zM1063 853h1v1h-1zM372 855h1v1h-1zM427 855h1v1h-1zM461 855h1v1h-1zM373 856h1v1h-1zM263 857h1v1h-1zM331 857h1v1h-1zM360 858h1v1h-1zM373 864h1v1h-1zM283 865h1v1h-1zM295 865h1v1h-1zM361 865h1v1h-1zM371 867h1v1h-1zM807 869h1v1h-1zM811 873h1v1h-1zM813 876h1v1h-1zM812 879h1v1h-1zM807 884h1v1h-1z" fill="#000" fill-opacity="0.812"/><path d="M805 186h1v1h-1zM805 187h1v1h-1zM805 188h1v1h-1zM805 189h1v1h-1zM805 190h1v1h-1zM805 191h1v1h-1zM805 192h1v1h-1zM805 193h1v1h-1zM805 194h1v1h-1zM805 195h1v1h-1zM805 196h1v1h-1zM805 197h1v1h-1zM805 198h1v1h-1zM805 199h1v1h-1zM805 200h1v1h-1zM805 201h1v1h-1zM805 202h1v1h-1zM805 203h1v1h-1zM805 204h1v1h-1zM805 205h1v1h-1zM805 206h1v1h-1zM805 207h1v1h-1zM805 208h1v1h-1zM805 209h1v1h-1zM805 210h1v1h-1zM805 211h1v1h-1zM805 212h1v1h-1zM805 213h1v1h-1zM805 214h1v1h-1zM805 215h1v1h-1zM805 216h1v1h-1zM805 217h1v1h-1zM805 218h1v1h-1zM805 219h1v1h-1zM805 220h1v1h-1zM805 221h1v1h-1zM805 222h1v1h-1zM805 223h1v1h-1zM805 224h1v1h-1zM805 225h1v1h-1zM805 226h1v1h-1zM805 227h1v1h-1zM805 228h1v1h-1zM805 229h1v1h-1zM805 230h1v1h-1zM805 231h1v1h-1zM805 232h1v1h-1zM805 233h1v1h-1zM805 234h1v1h-1zM805 235h1v1h-1zM812 235h1v1h-1zM818 235h1v1h-1zM805 236h1v1h-1zM805 237h1v1h-1zM805 238h1v1h-1zM805 239h1v1h-1zM805 240h1v1h-1zM805 241h1v1h-1zM805 242h1v1h-1zM805 243h1v1h-1zM805 244h1v1h-1zM805 245h1v1h-1zM808 245h1v1h-1zM805 246h1v1h-1zM805 247h1v1h-1zM805 248h1v1h-1zM805 249h1v1h-1zM805 250h1v1h-1zM805 251h1v1h-1zM805 252h1v1h-1zM805 253h1v1h-1zM805 254h1v1h-1zM805 255h1v1h-1zM805 256h1v1h-1zM805 257h1v1h-1zM805 258h1v1h-1zM805 259h1v1h-1zM805 260h1v1h-1zM805 261h1v1h-1zM805 262h1v1h-1zM805 263h1v1h-1zM805 264h1v1h-1zM805 265h1v1h-1zM805 266h1v1h-1zM805 267h1v1h-1zM805 268h1v1h-1zM805 269h1v1h-1zM805 270h1v1h-1zM805 271h1v1h-1zM805 272h1v1h-1zM805 273h1v1h-1zM805 274h1v1h-1zM805 275h1v1h-1zM805 276h1v1h-1zM805 277h1v1h-1zM805 278h1v1h-1zM805 279h1v1h-1zM805 280h1v1h-1zM805 281h1v1h-1zM805 282h1v1h-1zM805 283h1v1h-1zM805 284h1v1h-1zM805 285h1v1h-1zM805 286h1v1h-1zM813 405h1v1h-1zM813 406h1v1h-1zM813 407h1v1h-1zM813 408h1v1h-1zM813 409h1v1h-1zM813 410h1v1h-1zM813 411h1v1h-1zM813 412h1v1h-1zM813 413h1v1h-1zM813 414h1v1h-1zM813 415h1v1h-1zM813 416h1v1h-1zM813 417h1v1h-1zM813 418h1v1h-1zM813 419h1v1h-1zM813 420h1v1h-1zM803 421h1v1h-1zM813 421h1v1h-1zM803 422h1v1h-1zM813 422h1v1h-1zM803 423h1v1h-1zM813 423h1v1h-1zM803 424h1v1h-1zM813 424h1v1h-1zM803 425h1v1h-1zM813 425h1v1h-1zM803 426h1v1h-1zM813 426h1v1h-1zM803 427h1v1h-1zM813 427h1v1h-1zM803 428h1v1h-1zM813 428h1v1h-1zM803 429h1v1h-1zM813 429h1v1h-1zM803 430h1v1h-1zM813 430h1v1h-1zM803 431h1v1h-1zM813 431h1v1h-1zM803 432h1v1h-1zM813 432h1v1h-1zM803 433h1v1h-1zM813 433h1v1h-1zM803 434h1v1h-1zM813 434h1v1h-1zM803 435h1v1h-1zM813 435h1v1h-1zM803 436h1v1h-1zM813 436h1v1h-1zM803 437h1v1h-1zM813 437h1v1h-1zM803 438h1v1h-1zM813 438h1v1h-1zM803 439h1v1h-1zM813 439h1v1h-1zM803 440h1v1h-1zM813 440h1v1h-1zM803 441h1v1h-1zM813 441h1v1h-1zM803 442h1v1h-1zM813 442h1v1h-1zM803 443h1v1h-1zM813 443h1v1h-1zM803 444h1v1h-1zM813 444h1v1h-1zM803 445h1v1h-1zM813 445h1v1h-1zM803 446h1v1h-1zM813 446h1v1h-1zM803 447h1v1h-1zM813 447h1v1h-1zM803 448h1v1h-1zM813 448h1v1h-1zM803 449h1v1h-1zM813 449h1v1h-1zM803 450h1v1h-1zM813 450h1v1h-1zM803 451h1v1h-1zM813 451h1v1h-1zM803 452h1v1h-1zM813 452h1v1h-1zM803 453h1v1h-1zM803 454h1v1h-1zM803 455h1v1h-1zM803 456h1v1h-1zM803 457h1v1h-1zM803 458h1v1h-1zM803 459h1v1h-1zM803 460h1v1h-1zM803 461h1v1h-1zM803 462h1v1h-1zM803 463h1v1h-1zM803 464h1v1h-1zM803 465h1v1h-1zM815 526h1v1h-1zM815 527h1v1h-1zM820 527h1v1h-1zM828 527h1v1h-1zM815 528h1v1h-1zM822 528h1v1h-1zM826 528h1v1h-1zM815 529h1v1h-1zM815 530h1v1h-1zM815 531h1v1h-1zM815 532h1v1h-1zM815 533h1v1h-1zM815 534h1v1h-1zM815 535h1v1h-1zM815 536h1v1h-1zM815 537h1v1h-1zM815 538h1v1h-1zM815 539h1v1h-1zM815 540h1v1h-1zM815 541h1v1h-1zM815 542h1v1h-1zM815 543h1v1h-1zM815 544h1v1h-1zM815 545h1v1h-1zM815 546h1v1h-1zM815 547h1v1h-1zM815 548h1v1h-1zM815 549h1v1h-1zM815 550h1v1h-1zM815 551h1v1h-1zM800 601h1v1h-1zM800 602h1v1h-1zM800 603h1v1h-1zM800 604h1v1h-1zM800 605h1v1h-1zM800 606h1v1h-1zM800 607h1v1h-1zM800 608h1v1h-1zM800 609h1v1h-1zM800 610h1v1h-1zM800 611h1v1h-1zM800 612h1v1h-1zM800 613h1v1h-1zM831 613h1v1h-1zM800 614h1v1h-1zM800 615h1v1h-1zM800 616h1v1h-1zM840 616h1v1h-1zM788 622h4v1h-4zM786 623h1v1h-1zM840 624h1v1h-1zM836 627h1v1h-1zM783 633h1v1h-1zM788 637h4v1h-4zM796 640h1v1h-1zM800 640h4v1h-4zM818 642h1v1h-1zM800 643h1v1h-1zM807 643h1v1h-1zM818 643h1v1h-1zM795 644h1v1h-1zM818 644h1v1h-1zM788 645h3v1h-3zM808 645h1v1h-1zM818 645h1v1h-1zM798 646h1v1h-1zM818 646h1v1h-1zM798 647h1v1h-1zM818 647h1v1h-1zM798 648h1v1h-1zM818 648h1v1h-1zM798 649h1v1h-1zM818 649h1v1h-1zM798 650h1v1h-1zM818 650h1v1h-1zM798 651h1v1h-1zM800 651h1v1h-1zM818 651h1v1h-1zM798 652h1v1h-1zM818 652h1v1h-1zM798 653h1v1h-1zM791 654h1v1h-1zM798 655h1v1h-1zM800 655h4v1h-4zM798 656h1v1h-1zM788 660h3v1h-3zM820 674h1v1h-1zM820 675h1v1h-1zM830 675h4v1h-4zM820 676h1v1h-1zM820 677h1v1h-1zM820 678h1v1h-1zM826 678h1v1h-1zM820 679h1v1h-1zM838 679h1v1h-1zM820 680h1v1h-1zM825 680h1v1h-1zM820 681h1v1h-1zM762 685h1v1h-1zM758 688h1v1h-1zM830 690h4v1h-4zM857 693h1v1h-1zM871 693h1v1h-1zM805 695h1v1h-1zM758 696h1v1h-1zM829 697h4v1h-4zM861 697h1v1h-1zM867 697h1v1h-1zM767 699h1v1h-1zM836 699h1v1h-1zM755 700h4v1h-4zM795 701h1v1h-1zM795 702h1v1h-1zM762 703h1v1h-1zM795 703h1v1h-1zM818 703h1v1h-1zM823 703h1v1h-1zM833 703h1v1h-1zM838 703h1v1h-1zM750 704h1v1h-1zM795 704h1v1h-1zM818 704h1v1h-1zM823 704h1v1h-1zM833 704h1v1h-1zM838 704h1v1h-1zM763 705h1v1h-1zM795 705h1v1h-1zM815 705h1v1h-1zM818 705h1v1h-1zM823 705h1v1h-1zM833 705h1v1h-1zM838 705h1v1h-1zM814 706h1v1h-1zM818 706h1v1h-1zM823 706h1v1h-1zM833 706h1v1h-1zM838 706h1v1h-1zM800 709h1v1h-1zM815 709h1v1h-1zM800 710h1v1h-1zM815 710h1v1h-1zM800 711h1v1h-1zM815 711h1v1h-1zM800 712h1v1h-1zM815 712h1v1h-1zM823 712h1v1h-1zM829 712h4v1h-4zM801 714h1v1h-1zM755 715h4v1h-4zM811 717h1v1h-1zM823 717h1v1h-1zM793 718h1v1h-1zM823 718h1v1h-1zM793 719h1v1h-1zM823 719h1v1h-1zM793 720h1v1h-1zM801 720h4v1h-4zM823 720h1v1h-1zM793 721h1v1h-1zM823 721h1v1h-1zM793 722h1v1h-1zM825 722h4v1h-4zM810 725h1v1h-1zM819 731h1v1h-1zM815 732h1v1h-1zM820 732h1v1h-1zM823 732h1v1h-1zM825 732h1v1h-1zM825 733h1v1h-1zM833 733h1v1h-1zM821 734h1v1h-1zM801 735h4v1h-4zM825 735h1v1h-1zM825 737h4v1h-4zM789 740h2v1h-2zM792 740h1v1h-1zM790 745h1v1h-1zM816 745h1v1h-1zM822 745h1v1h-1zM783 746h1v1h-1zM790 746h1v1h-1zM798 746h1v1h-1zM819 746h1v1h-1zM783 747h1v1h-1zM790 747h1v1h-1zM798 747h1v1h-1zM783 748h1v1h-1zM798 748h1v1h-1zM818 748h1v1h-1zM833 748h1v1h-1zM783 749h1v1h-1zM798 749h1v1h-1zM818 749h1v1h-1zM833 749h1v1h-1zM818 750h1v1h-1zM833 750h1v1h-1zM818 751h1v1h-1zM833 751h1v1h-1zM796 753h1v1h-1zM811 754h1v1h-1zM828 754h1v1h-1zM788 755h5v1h-5zM828 755h1v1h-1zM788 756h1v1h-1zM823 757h1v1h-1zM833 757h1v1h-1zM827 758h1v1h-1zM831 758h1v1h-1zM830 762h1v1h-1zM800 763h1v1h-1zM830 763h1v1h-1zM765 765h4v1h-4zM801 767h1v1h-1zM803 767h1v1h-1zM811 767h3v1h-3zM761 768h1v1h-1zM773 769h1v1h-1zM760 770h1v1h-1zM785 770h1v1h-1zM785 771h1v1h-1zM819 771h1v1h-1zM818 773h1v1h-1zM832 773h2v1h-2zM818 774h1v1h-1zM818 775h1v1h-1zM833 775h1v1h-1zM783 776h1v1h-1zM818 776h1v1h-1zM833 776h1v1h-1zM783 777h1v1h-1zM792 778h1v1h-1zM818 778h1v1h-1zM806 779h1v1h-1zM765 780h4v1h-4zM835 781h1v1h-1zM745 782h1v1h-1zM774 782h1v1h-1zM810 782h1v1h-1zM823 782h1v1h-1zM742 784h1v1h-1zM836 784h1v1h-1zM783 785h1v1h-1zM755 786h1v1h-1zM770 786h1v1h-1zM780 786h1v1h-1zM820 787h1v1h-1zM795 788h1v1h-1zM810 788h1v1h-1zM837 788h1v1h-1zM795 789h1v1h-1zM810 789h1v1h-1zM795 790h1v1h-1zM810 790h1v1h-1zM838 790h1v1h-1zM795 791h1v1h-1zM810 791h1v1h-1zM782 794h1v1h-1zM840 794h1v1h-1zM744 795h1v1h-1zM752 795h1v1h-1zM773 795h1v1h-1zM805 797h1v1h-1zM810 797h1v1h-1zM724 802h4v1h-4zM817 803h1v1h-1zM808 806h1v1h-1zM790 808h1v1h-1zM803 808h1v1h-1zM805 808h1v1h-1zM818 808h1v1h-1zM790 809h1v1h-1zM803 809h1v1h-1zM805 809h1v1h-1zM818 809h1v1h-1zM790 810h1v1h-1zM803 810h1v1h-1zM805 810h1v1h-1zM818 810h1v1h-1zM790 811h1v1h-1zM803 811h1v1h-1zM805 811h1v1h-1zM818 811h1v1h-1zM718 812h1v1h-1zM808 814h1v1h-1zM724 817h4v1h-4zM800 817h1v1h-1zM808 817h1v1h-1zM813 817h1v1h-1zM860 820h1v1h-1zM866 824h1v1h-1zM749 825h1v1h-1zM746 827h1v1h-1zM870 827h1v1h-1zM872 828h1v1h-1zM877 830h1v1h-1zM881 832h1v1h-1zM726 835h2v1h-2zM890 835h1v1h-1zM720 837h2v1h-2zM896 837h1v1h-1zM906 839h1v1h-1zM706 840h2v1h-2zM909 840h2v1h-2zM697 842h2v1h-2zM918 842h3v1h-3zM673 845h4v1h-4zM941 845h4v1h-4zM656 847h5v1h-5zM956 847h5v1h-5zM627 849h1v1h-1zM608 850h10v1h-10zM1000 850h9v1h-9zM570 852h14v1h-14zM1034 852h13v1h-13zM371 854h1v1h-1zM1126 854h1v1h-1zM428 855h33v1h-33zM1156 855h34v1h-34zM264 857h18v1h-18zM283 857h13v1h-13zM297 857h34v1h-34zM1286 857h68v1h-68zM360 863h1v1h-1zM285 867h1v1h-1zM293 867h1v1h-1zM363 867h1v1h-1zM287 868h1v1h-1zM291 868h1v1h-1zM802 876h1v1h-1z" fill="#000" fill-opacity="0.875"/><path d="M811 96h1v1h-1zM811 97h1v1h-1zM811 98h1v1h-1zM811 99h1v1h-1zM811 100h1v1h-1zM811 101h1v1h-1zM811 102h1v1h-1zM811 103h1v1h-1zM811 104h1v1h-1zM811 105h1v1h-1zM811 106h1v1h-1zM811 107h1v1h-1zM811 108h1v1h-1zM811 109h1v1h-1zM811 110h1v1h-1zM811 111h1v1h-1zM811 112h1v1h-1zM811 113h1v1h-1zM811 114h1v1h-1zM811 115h1v1h-1zM811 116h1v1h-1zM811 117h1v1h-1zM811 118h1v1h-1zM811 119h1v1h-1zM811 120h1v1h-1zM811 121h1v1h-1zM811 122h1v1h-1zM811 123h1v1h-1zM811 124h1v1h-1zM811 125h1v1h-1zM811 126h1v1h-1zM811 127h1v1h-1zM811 128h1v1h-1zM811 129h1v1h-1zM811 130h1v1h-1zM811 131h1v1h-1zM811 132h1v1h-1zM811 133h1v1h-1zM811 134h1v1h-1zM811 135h1v1h-1zM811 136h1v1h-1zM811 137h1v1h-1zM811 138h1v1h-1zM811 139h1v1h-1zM811 140h1v1h-1zM811 141h1v1h-1zM811 142h1v1h-1zM811 143h1v1h-1zM811 144h1v1h-1zM811 145h1v1h-1zM811 146h1v1h-1zM811 147h1v1h-1zM822 239h1v1h-1zM822 245h1v1h-1zM812 249h1v1h-1zM818 249h1v1h-1zM812 261h1v1h-1zM812 262h1v1h-1zM812 263h1v1h-1zM812 264h1v1h-1zM812 265h1v1h-1zM812 266h1v1h-1zM812 267h1v1h-1zM812 268h1v1h-1zM812 269h1v1h-1zM812 270h1v1h-1zM812 271h1v1h-1zM812 272h1v1h-1zM812 273h1v1h-1zM812 274h1v1h-1zM812 275h1v1h-1zM812 276h1v1h-1zM812 277h1v1h-1zM812 278h1v1h-1zM812 279h1v1h-1zM812 280h1v1h-1zM812 281h1v1h-1zM812 282h1v1h-1zM812 283h1v1h-1zM812 284h1v1h-1zM812 285h1v1h-1zM812 286h1v1h-1zM812 287h1v1h-1zM812 288h1v1h-1zM812 289h1v1h-1zM812 290h1v1h-1zM812 291h1v1h-1zM812 292h1v1h-1zM812 293h1v1h-1zM812 294h1v1h-1zM812 295h1v1h-1zM812 296h1v1h-1zM812 297h1v1h-1zM812 298h1v1h-1zM812 299h1v1h-1zM812 300h1v1h-1zM812 301h1v1h-1zM812 302h1v1h-1zM812 303h1v1h-1zM812 304h1v1h-1zM812 305h1v1h-1zM812 306h1v1h-1zM812 307h1v1h-1zM812 308h1v1h-1zM812 309h1v1h-1zM812 310h1v1h-1zM812 311h1v1h-1zM812 312h1v1h-1zM812 313h1v1h-1zM812 314h1v1h-1zM812 315h1v1h-1zM812 316h1v1h-1zM812 317h1v1h-1zM812 318h1v1h-1zM812 319h1v1h-1zM812 320h1v1h-1zM812 321h1v1h-1zM812 322h1v1h-1zM812 323h1v1h-1zM812 324h1v1h-1zM812 325h1v1h-1zM812 326h1v1h-1zM812 327h1v1h-1zM812 328h1v1h-1zM812 329h1v1h-1zM812 330h1v1h-1zM812 331h1v1h-1zM812 332h1v1h-1zM812 333h1v1h-1zM812 334h1v1h-1zM812 335h1v1h-1zM812 336h1v1h-1zM812 337h1v1h-1zM812 338h1v1h-1zM812 339h1v1h-1zM812 340h1v1h-1zM812 341h1v1h-1zM802 503h1v1h-1zM802 504h1v1h-1zM802 505h1v1h-1zM802 506h1v1h-1zM802 507h1v1h-1zM802 508h1v1h-1zM802 509h1v1h-1zM802 510h1v1h-1zM802 511h1v1h-1zM802 512h1v1h-1zM802 513h1v1h-1zM822 513h5v1h-5zM802 514h1v1h-1zM820 514h1v1h-1zM828 514h1v1h-1zM802 515h1v1h-1zM802 516h1v1h-1zM802 517h1v1h-1zM802 518h1v1h-1zM817 518h1v1h-1zM831 518h1v1h-1zM802 519h1v1h-1zM802 520h1v1h-1zM802 521h1v1h-1zM802 522h1v1h-1zM802 523h1v1h-1zM817 523h1v1h-1zM831 523h1v1h-1zM802 524h1v1h-1zM802 525h1v1h-1zM802 526h1v1h-1zM802 527h1v1h-1zM802 528h1v1h-1zM823 528h3v1h-3zM802 529h1v1h-1zM802 530h1v1h-1zM802 531h1v1h-1zM802 532h1v1h-1zM802 533h1v1h-1zM801 560h1v1h-1zM801 561h1v1h-1zM801 562h1v1h-1zM801 563h1v1h-1zM801 564h1v1h-1zM801 565h1v1h-1zM801 566h1v1h-1zM801 567h1v1h-1zM801 568h1v1h-1zM801 569h1v1h-1zM801 570h1v1h-1zM801 571h1v1h-1zM801 572h1v1h-1zM801 573h1v1h-1zM801 574h1v1h-1zM801 575h1v1h-1zM801 576h1v1h-1zM816 576h1v1h-1zM801 577h1v1h-1zM816 577h1v1h-1zM801 578h1v1h-1zM816 578h1v1h-1zM801 579h1v1h-1zM816 579h1v1h-1zM801 580h1v1h-1zM816 580h1v1h-1zM801 581h1v1h-1zM816 581h1v1h-1zM816 582h1v1h-1zM816 583h1v1h-1zM816 584h1v1h-1zM816 585h1v1h-1zM816 586h1v1h-1zM816 587h1v1h-1zM816 588h1v1h-1zM816 589h1v1h-1zM816 590h1v1h-1zM816 591h1v1h-1zM816 592h1v1h-1zM816 593h1v1h-1zM816 594h1v1h-1zM817 613h1v1h-1zM836 613h1v1h-1zM817 614h1v1h-1zM817 615h1v1h-1zM817 616h1v1h-1zM827 616h1v1h-1zM817 617h1v1h-1zM817 618h1v1h-1zM826 618h1v1h-1zM841 618h1v1h-1zM817 619h1v1h-1zM826 619h1v1h-1zM841 619h1v1h-1zM817 620h1v1h-1zM826 620h1v1h-1zM841 620h1v1h-1zM817 621h1v1h-1zM826 621h1v1h-1zM841 621h1v1h-1zM817 622h1v1h-1zM817 623h1v1h-1zM817 624h1v1h-1zM827 624h1v1h-1zM817 625h1v1h-1zM817 626h1v1h-1zM817 627h1v1h-1zM782 628h1v1h-1zM797 628h1v1h-1zM782 629h1v1h-1zM797 629h1v1h-1zM782 630h1v1h-1zM797 630h1v1h-1zM782 631h1v1h-1zM797 631h1v1h-1zM796 633h1v1h-1zM799 640h1v1h-1zM797 641h1v1h-1zM787 643h1v1h-1zM801 646h1v1h-1zM786 647h1v1h-1zM801 647h1v1h-1zM786 648h1v1h-1zM801 648h1v1h-1zM786 649h1v1h-1zM801 649h1v1h-1zM782 650h1v1h-1zM796 650h1v1h-1zM787 651h1v1h-1zM796 653h1v1h-1zM796 654h1v1h-1zM805 654h1v1h-1zM785 659h1v1h-1zM793 659h1v1h-1zM797 667h1v1h-1zM797 668h1v1h-1zM797 669h1v1h-1zM797 670h1v1h-1zM797 671h1v1h-1zM797 672h1v1h-1zM797 673h1v1h-1zM797 674h1v1h-1zM797 675h1v1h-1zM861 683h1v1h-1zM867 683h1v1h-1zM796 686h1v1h-1zM796 687h1v1h-1zM857 687h1v1h-1zM871 687h1v1h-1zM771 688h1v1h-1zM796 688h1v1h-1zM837 688h1v1h-1zM796 689h1v1h-1zM828 689h1v1h-1zM836 689h1v1h-1zM796 690h1v1h-1zM757 691h1v1h-1zM772 691h1v1h-1zM796 691h1v1h-1zM821 691h1v1h-1zM757 692h1v1h-1zM772 692h1v1h-1zM796 692h1v1h-1zM821 692h1v1h-1zM757 693h1v1h-1zM772 693h1v1h-1zM821 693h1v1h-1zM757 694h1v1h-1zM772 694h1v1h-1zM821 694h1v1h-1zM821 695h1v1h-1zM771 696h1v1h-1zM821 696h1v1h-1zM821 697h1v1h-1zM823 698h1v1h-1zM827 698h1v1h-1zM762 699h1v1h-1zM801 699h1v1h-1zM821 699h1v1h-1zM832 701h1v1h-1zM806 703h4v1h-4zM811 704h1v1h-1zM801 705h1v1h-1zM822 705h1v1h-1zM822 706h1v1h-1zM822 707h1v1h-1zM822 708h1v1h-1zM837 708h1v1h-1zM805 709h1v1h-1zM811 709h1v1h-1zM822 709h1v1h-1zM832 709h1v1h-1zM822 710h1v1h-1zM751 713h1v1h-1zM752 714h1v1h-1zM760 714h1v1h-1zM806 718h4v1h-4zM797 723h1v1h-1zM823 723h1v1h-1zM831 723h1v1h-1zM832 724h1v1h-1zM796 725h1v1h-1zM792 728h1v1h-1zM792 729h1v1h-1zM792 730h1v1h-1zM792 731h1v1h-1zM799 734h1v1h-1zM807 734h1v1h-1zM791 737h1v1h-1zM791 738h1v1h-1zM791 739h1v1h-1zM812 741h1v1h-1zM826 741h1v1h-1zM826 742h1v1h-1zM823 743h1v1h-1zM826 743h3v1h-3zM831 743h1v1h-1zM797 744h1v1h-1zM821 744h1v1h-1zM825 744h1v1h-1zM833 744h1v1h-1zM832 746h1v1h-1zM827 747h1v1h-1zM822 748h1v1h-1zM827 748h1v1h-1zM836 748h1v1h-1zM827 749h1v1h-1zM805 753h4v1h-4zM822 753h1v1h-1zM836 753h1v1h-1zM787 754h1v1h-1zM803 754h1v1h-1zM832 754h1v1h-1zM828 758h1v1h-1zM830 758h1v1h-1zM787 761h1v1h-1zM786 766h1v1h-1zM810 767h1v1h-1zM831 767h1v1h-1zM805 768h2v1h-2zM808 768h1v1h-1zM816 768h1v1h-1zM823 768h1v1h-1zM831 768h1v1h-1zM817 769h1v1h-1zM821 769h1v1h-1zM792 770h1v1h-1zM805 770h1v1h-1zM791 772h1v1h-1zM806 772h1v1h-1zM832 772h1v1h-1zM791 773h1v1h-1zM806 773h1v1h-1zM791 774h1v1h-1zM806 774h1v1h-1zM791 775h1v1h-1zM806 775h1v1h-1zM805 777h1v1h-1zM772 778h1v1h-1zM805 778h1v1h-1zM763 779h1v1h-1zM771 779h1v1h-1zM832 779h1v1h-1zM782 780h1v1h-1zM772 783h1v1h-1zM805 783h1v1h-1zM810 783h1v1h-1zM816 783h1v1h-1zM771 784h1v1h-1zM781 784h1v1h-1zM807 784h1v1h-1zM836 785h1v1h-1zM741 786h1v1h-1zM796 786h1v1h-1zM806 787h1v1h-1zM837 787h1v1h-1zM777 793h1v1h-1zM806 793h1v1h-1zM796 794h1v1h-1zM841 796h1v1h-1zM842 798h1v1h-1zM721 803h1v1h-1zM729 803h1v1h-1zM800 803h1v1h-1zM808 803h1v1h-1zM812 803h1v1h-1zM771 804h1v1h-1zM802 804h1v1h-1zM806 804h1v1h-1zM846 805h1v1h-1zM791 806h1v1h-1zM817 806h1v1h-1zM821 806h1v1h-1zM807 808h1v1h-1zM822 808h1v1h-1zM807 809h1v1h-1zM822 809h1v1h-1zM807 810h1v1h-1zM822 810h1v1h-1zM807 811h1v1h-1zM822 811h1v1h-1zM732 812h1v1h-1zM731 814h1v1h-1zM791 814h1v1h-1zM817 814h1v1h-1zM821 814h1v1h-1zM759 818h1v1h-1zM864 823h1v1h-1zM751 824h1v1h-1zM744 828h1v1h-1zM742 829h1v1h-1zM732 833h2v1h-2zM884 833h1v1h-1zM887 834h1v1h-1zM716 838h2v1h-2zM900 838h2v1h-2zM711 839h2v1h-2zM904 839h2v1h-2zM690 843h3v1h-3zM925 843h3v1h-3zM682 844h3v1h-3zM932 844h4v1h-4zM643 848h6v1h-6zM968 848h6v1h-6zM628 849h7v1h-7zM982 849h8v1h-8zM287 853h5v1h-5zM365 853h4v1h-4zM536 853h18v1h-18zM1064 853h17v1h-17zM285 854h1v1h-1zM293 854h1v1h-1zM363 854h1v1h-1zM491 854h24v1h-24zM1102 854h24v1h-24zM120 858h53v1h-53zM282 858h1v1h-1zM296 858h1v1h-1zM1445 858h127v1h-127zM282 863h1v1h-1zM296 863h1v1h-1zM288 868h3v1h-3zM365 868h4v1h-4z" fill="#000" fill-opacity="0.938"/><path d="M798 641h1v1h-1zM786 646h1v1h-1zM797 654h2v1h-2zM825 734h1v1h-1zM791 740h1v1h-1zM826 740h1v1h-1zM829 743h2v1h-2zM825 757h1v1h-1zM829 758h1v1h-1zM807 768h1v1h-1zM832 771h1v1h-1zM833 774h1v1h-1zM811 782h3v1h-3zM781 783h1v1h-1zM776 796h1v1h-1zM804 806h1v1h-1zM804 807h1v1h-1zM804 813h1v1h-1zM804 814h1v1h-1zM812 817h1v1h-1zM361 856h1v1h-1zM282 857h1v1h-1zM296 857h1v1h-1z" fill="#000" fill-opacity="1.000"/></g><text x="937.4" y="25.7" font-family="Liberation Serif" font-weight="bold" fill="#000" font-size="31.6" text-anchor="middle">Funnel Plot of Precision by Logit event rate</text><text x="102.5" y="868.4" font-family="Liberation Serif" font-weight="bold" fill="#000" font-size="22.5" text-anchor="end">0</text><text x="102.5" y="766.3" font-family="Liberation Serif" font-weight="bold" fill="#000" font-size="22.5" text-anchor="end">2</text><text x="102.5" y="664.2" font-family="Liberation Serif" font-weight="bold" fill="#000" font-size="22.5" text-anchor="end">4</text><text x="102.5" y="562.1" font-family="Liberation Serif" font-weight="bold" fill="#000" font-size="22.5" text-anchor="end">6</text><text x="102.5" y="460.0" font-family="Liberation Serif" font-weight="bold" fill="#000" font-size="22.5" text-anchor="end">8</text><text x="102.5" y="357.9" font-family="Liberation Serif" font-weight="bold" fill="#000" font-size="22.5" text-anchor="end">10</text><text x="102.5" y="255.8" font-family="Liberation Serif" font-weight="bold" fill="#000" font-size="22.5" text-anchor="end">12</text><text x="102.5" y="153.7" font-family="Liberation Serif" font-weight="bold" fill="#000" font-size="22.5" text-anchor="end">14</text><text x="119.5" y="959" font-family="Liberation Serif" font-weight="bold" fill="#000" font-size="22.5" text-anchor="middle">-20</text><text x="528.5" y="959" font-family="Liberation Serif" font-weight="bold" fill="#000" font-size="22.5" text-anchor="middle">-10</text><text x="937.5" y="959" font-family="Liberation Serif" font-weight="bold" fill="#000" font-size="22.5" text-anchor="middle">0</text><text x="1346.5" y="959" font-family="Liberation Serif" font-weight="bold" fill="#000" font-size="22.5" text-anchor="middle">10</text><text x="1755.5" y="959" font-family="Liberation Serif" font-weight="bold" fill="#000" font-size="22.5" text-anchor="middle">20</text><text x="868.35" y="999.7" font-family="Liberation Serif" font-weight="bold" fill="#000" font-size="26.95" text-anchor="middle">Logit event rate</text><text transform="translate(31.0,533.8) rotate(-90)" x="0" y="0" font-family="Liberation Serif" font-weight="bold" fill="#000" font-size="27.2" text-anchor="middle">Precision (1/Std Err)</text></svg>
</body></html>
